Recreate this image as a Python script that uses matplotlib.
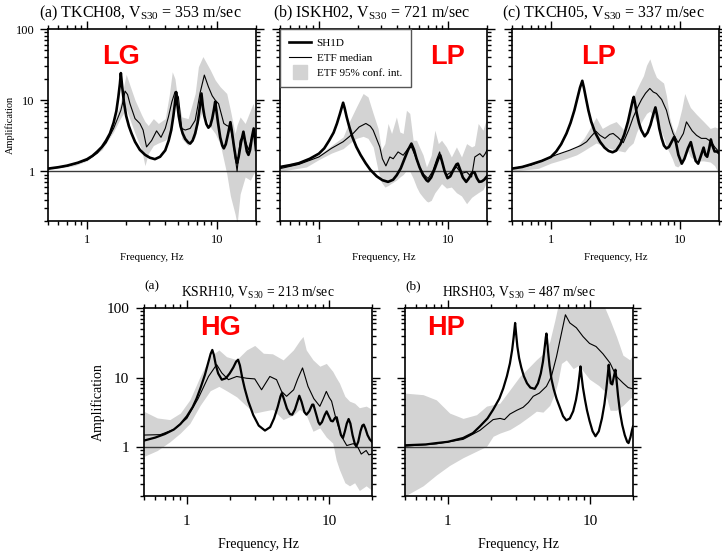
import matplotlib
matplotlib.use("Agg")
import matplotlib.pyplot as plt
from matplotlib.ticker import FixedLocator, FixedFormatter, LogLocator, NullFormatter
from matplotlib.lines import Line2D

plt.rcParams['font.family'] = ['Liberation Serif', 'DejaVu Serif']
plt.rcParams['mathtext.fontset'] = 'custom'
plt.rcParams['mathtext.rm'] = 'Liberation Serif'
plt.rcParams['mathtext.it'] = 'Liberation Serif:italic'

# ---------------- data: top (a) TKCH08 ----------------
tkch08_sh_f = [0.5, 0.6, 0.7, 0.85, 1.0, 1.1, 1.2, 1.3, 1.4, 1.5, 1.6, 1.68, 1.74, 1.79, 1.82, 1.86, 1.92,
               2.0, 2.1, 2.2, 2.34, 2.55, 2.8, 3.05, 3.33, 3.65, 4.0, 4.25, 4.45, 4.62, 4.75, 4.85, 4.95,
               5.08, 5.25, 5.45, 5.7, 6.0, 6.22, 6.5, 6.8, 7.1, 7.35, 7.6, 7.8, 8.0, 8.3, 8.6, 8.9, 9.2,
               9.5, 9.7, 9.9, 10.2, 10.6, 11.0, 11.3, 11.7, 12.2, 12.7, 13.0, 13.5, 14.0, 14.3, 14.7,
               15.3, 16.0, 16.5, 17.0, 17.5, 18.0, 18.6, 19.2, 19.6, 20.0]
tkch08_sh_a = [1.09, 1.14, 1.2, 1.32, 1.48, 1.65, 1.9, 2.2, 2.7, 3.4, 4.8, 7, 11, 17, 24, 16, 9.5,
               6.0, 4.3, 3.4, 2.6, 2.0, 1.7, 1.55, 1.48, 1.6, 1.97, 2.7, 3.8, 6, 9, 13, 9,
               6, 4.3, 3.4, 2.85, 2.55, 2.45, 2.7, 3.4, 4.8, 7.5, 12.4, 8, 6.0, 4.6, 4.1, 4.4, 5.5,
               7.5, 9.5, 7.2, 4.8, 3.0, 2.3, 2.1, 2.4, 3.4, 4.9, 3.8, 2.3, 1.5, 1.3, 1.6,
               2.5, 3.6, 2.6, 1.9, 1.7, 2.0, 3.0, 4.0, 2.9, 2.0]
tkch08_etf_f = [0.5, 0.7, 1.0, 1.2, 1.4, 1.6, 1.75, 1.82, 1.9, 1.96, 2.05, 2.14, 2.34, 2.55, 2.7, 2.87, 3.14,
                3.43, 3.71, 4.0, 4.23, 4.5, 4.76, 5.05, 5.36, 5.7, 6.22, 6.8, 7.1, 7.4, 8.0, 8.6, 9.2, 9.7,
                10.3, 11.3, 11.9, 12.7, 13.4, 14.3, 15.1, 16.0, 17.5, 19.2, 20.0]
tkch08_etf_a = [1.08, 1.18, 1.43, 1.8, 2.5, 4.0, 6.0, 7.2, 10, 13.4, 12, 8.9, 5.5, 4.7, 3.8, 2.2, 2.7,
                3.7, 3.0, 4.0, 5.8, 9.5, 13.1, 11.1, 4.0, 3.8, 4.0, 5.2, 8, 12.4, 22.5, 15.4, 11.5, 10.0,
                8.9, 4.7, 4.4, 4.2, 2.45, 1.0, 2.7, 3.2, 2.0, 3.8, 3.0]
tkch08_ci_f = [0.5, 0.8, 1.0, 1.3, 1.6, 1.8, 2.0, 2.34, 2.63, 2.79, 2.96, 3.24, 3.54, 4.0, 4.3, 4.53, 4.75,
               4.9, 5.36, 6.0, 6.8, 7.2, 7.8, 8.9, 9.7, 10.6, 11.9, 12.7, 13.8, 14.3, 15.1, 16.5, 18.1, 19.0, 20.0]
tkch08_ci_hi = [1.12, 1.3, 1.5, 2.2, 4.5, 9, 23, 10, 6.2, 5, 4.4, 5.5, 4.7, 5.5, 12, 25, 20,
                13, 5.8, 5.5, 12.4, 29.5, 41, 26.5, 19.2, 15.4, 12.4, 7.2, 3.4, 4.5, 5.8, 4.7, 7.2, 9.0, 5.8]
tkch08_ci_lo = [1.05, 1.2, 1.4, 2.0, 3.6, 5.5, 7.5, 3.4, 2.0, 1.2, 1.77, 2.3, 2.5, 2.73, 3.2, 5.0, 9.0,
                10, 2.88, 2.3, 3.0, 5.0, 7.2, 4.2, 3.4, 2.4, 0.93, 0.45, 0.25, 0.18, 0.48, 0.83, 0.75, 0.9, 1.03]

# ---------------- data: top (b) ISKH02 ----------------
iskh02_sh_f = [0.5, 0.6, 0.7, 0.85, 1.0, 1.1, 1.2, 1.3, 1.38, 1.45, 1.5, 1.54, 1.58, 1.64, 1.72, 1.82, 1.95,
               2.1, 2.3, 2.5, 2.8, 3.1, 3.43, 3.75, 4.0, 4.3, 4.6, 4.9, 5.2, 5.45, 5.7, 6.0, 6.4, 6.8, 7.0,
               7.4, 7.9, 8.4, 8.7, 9.0, 9.4, 9.9, 10.4, 11.0, 11.6, 11.9, 12.4, 13.0, 13.8, 14.5, 15.3,
               16.0, 16.7, 17.4, 18.2, 19.0, 20.0]
iskh02_sh_a = [1.15, 1.22, 1.3, 1.5, 1.77, 2.1, 2.7, 3.5, 4.7, 6.3, 7.8, 9.2, 7.8, 5.8, 4.2, 3.0, 2.2,
               1.7, 1.3, 1.05, 0.85, 0.75, 0.71, 0.76, 0.88, 1.1, 1.5, 2.0, 2.45, 2.0, 1.5, 1.15, 0.88, 0.75, 0.72,
               0.82, 1.1, 1.5, 1.68, 1.35, 1.0, 0.8, 0.85, 1.05, 1.25, 1.28, 1.05, 0.82, 0.71, 0.8, 0.95,
               0.97, 0.8, 0.71, 0.72, 0.76, 0.85]
iskh02_etf_f = [0.5, 0.7, 1.0, 1.25, 1.54, 1.84, 2.05, 2.31, 2.5, 2.63, 2.96, 3.1, 3.3, 3.54, 3.76, 4.1, 4.49,
                4.9, 5.2, 5.6, 6.0, 6.5, 7.0, 7.6, 8.2, 8.6, 9.1, 9.7, 10.6, 11.6, 12.7, 13.9, 15.2, 16.1,
                17.6, 18.6, 19.3, 20.0]
iskh02_etf_a = [1.09, 1.25, 1.59, 2.1, 2.6, 3.4, 4.2, 4.7, 4.3, 3.78, 2.2, 1.5, 1.19, 1.59, 1.5, 1.87, 1.68,
                2.08, 2.2, 1.6, 1.15, 0.9, 0.79, 1.0, 1.5, 1.87, 1.2, 0.88, 0.98, 1.15, 0.93, 0.98, 0.83, 1.59,
                1.77, 1.59, 1.75, 1.98]
iskh02_ci_f = [0.5, 0.8, 1.0, 1.25, 1.54, 1.74, 1.95, 2.2, 2.4, 2.63, 2.87, 3.05, 3.24, 3.43, 3.65, 3.98, 4.23,
               4.49, 4.76, 5.05, 5.36, 5.7, 6.0, 6.4, 6.8, 7.0, 7.4, 7.9, 8.4, 8.9, 9.7, 10.6, 11.6, 12.7,
               13.9, 15.2, 16.0, 17.1, 18.6, 20.0]
iskh02_ci_hi = [1.2, 1.45, 1.7, 2.3, 3.04, 5.2, 8.0, 12.4, 11.1, 6.5, 4.0, 2.0, 2.45, 4.7, 3.4, 5.8, 3.57,
                3.4, 7.2, 6.5, 2.73, 2.73, 2.2, 1.7, 1.15, 1.3, 1.68, 3.78, 2.45, 2.73, 2.2, 1.59, 2.2, 1.59,
                2.45, 2.2, 2.3, 4.7, 3.78, 5.8]
iskh02_ci_lo = [1.0, 1.15, 1.46, 1.8, 2.08, 2.5, 2.9, 3.1, 2.9, 2.2, 1.03, 0.7, 0.6, 0.63, 0.68, 0.75, 0.83,
                0.9, 1.03, 1.0, 0.8, 0.6, 0.5, 0.43, 0.38, 0.37, 0.39, 0.5, 0.58, 0.67, 0.58, 0.6, 0.5, 0.45,
                0.35, 0.43, 0.46, 0.5, 0.55, 0.71]

# ---------------- data: top (c) TKCH05 ----------------
tkch05_sh_f = [0.5, 0.6, 0.7, 0.85, 1.0, 1.1, 1.2, 1.32, 1.42, 1.52, 1.6, 1.68, 1.75, 1.8, 1.87, 1.95, 2.05,
               2.2, 2.4, 2.6, 2.8, 3.0, 3.2, 3.45, 3.7, 3.95, 4.15, 4.3, 4.38, 4.48, 4.62, 4.8, 5.0, 5.32,
               5.6, 5.9, 6.2, 6.44, 6.65, 6.9, 7.2, 7.5, 7.84, 8.2, 8.6, 9.0, 9.3, 9.7, 10.3, 10.8, 11.5,
               12.1, 12.6, 13.2, 13.8, 14.4, 15.2, 15.7, 16.2, 16.8, 17.3, 17.8, 18.5, 19.2, 20.0]
tkch05_sh_a = [1.09, 1.15, 1.25, 1.4, 1.59, 1.9, 2.4, 3.4, 4.8, 7.2, 10.5, 15, 18.7, 15, 10.5, 7.2, 5.0,
               3.5, 2.6, 2.15, 1.93, 1.85, 1.95, 2.4, 3.3, 5.0, 7.5, 10, 11.1, 9, 6.5, 4.8, 3.8, 3.1,
               3.5, 4.5, 6.3, 7.9, 6.0, 4.0, 2.9, 2.3, 2.09, 2.2, 2.6, 3.04, 2.5, 1.7, 1.28, 1.5, 2.1,
               2.57, 1.9, 1.4, 1.28, 1.6, 2.15, 1.7, 1.6, 2.1, 2.8, 2.3, 1.9, 1.9, 1.8]
tkch05_etf_f = [0.5, 0.7, 0.87, 1.1, 1.4, 1.7, 1.89, 2.05, 2.23, 2.4, 2.62, 2.85, 3.03, 3.3, 3.63, 4.0, 4.33,
                4.7, 5.03, 5.4, 5.83, 6.2, 6.56, 7.2, 7.84, 8.3, 8.83, 9.66, 10.6, 11.2, 12.4, 13.4, 14.6,
                15.9, 17.4, 18.5, 20.0]
tkch05_etf_a = [1.09, 1.22, 1.43, 1.7, 1.98, 2.3, 2.6, 3.1, 3.66, 3.2, 2.9, 3.3, 3.4, 3.0, 2.52, 3.8, 5.7,
                8.0, 10.2, 12.5, 14.6, 13, 12.4, 10.2, 7.2, 4.8, 3.4, 2.53, 3.4, 4.95, 3.7, 3.2, 2.9,
                2.9, 2.6, 2.2, 1.87]
tkch05_ci_f = [0.5, 0.8, 1.0, 1.3, 1.58, 1.8, 2.0, 2.24, 2.5, 2.86, 3.2, 3.73, 4.0, 4.33, 4.6, 4.87, 5.2,
               5.5, 5.83, 6.2, 6.56, 7.0, 7.45, 7.84, 8.3, 8.7, 9.1, 9.6, 10.3, 10.86, 11.5, 12.0, 13.4,
               15.2, 17.1, 18.5, 20.0]
tkch05_ci_hi = [1.12, 1.35, 1.6, 1.9, 2.2, 2.9, 4.0, 5.7, 4.0, 4.6, 5.0, 3.7, 5.5, 10.8, 14, 17.4, 22,
                31, 38, 27, 21, 19, 17.4, 11.5, 5.7, 4.2, 3.45, 4.5, 7.5, 12.4, 9.5, 7.9, 6.3,
                5.0, 4.0, 4.2, 4.0]
tkch05_ci_lo = [1.0, 1.1, 1.3, 1.5, 1.7, 1.95, 2.2, 2.5, 2.3, 2.1, 1.98, 1.87, 2.2, 2.5, 3.5, 4.5, 5.5,
                6.5, 7.0, 6.0, 5.0, 4.0, 3.0, 2.2, 1.8, 1.5, 1.2, 1.15, 1.3, 1.8, 1.9, 1.6, 1.4,
                1.4, 1.35, 1.2, 0.9]

# ---------------- data: bottom (a) KSRH10 ----------------
ksrh10_sh_f = [0.5, 0.6, 0.7, 0.81, 0.9, 1.0, 1.1, 1.17, 1.25, 1.34, 1.42, 1.47, 1.51, 1.55, 1.6, 1.66, 1.76,
               1.88, 2.0, 2.12, 2.22, 2.29, 2.36, 2.45, 2.55, 2.7, 2.93, 3.2, 3.54, 3.85, 4.1, 4.35, 4.55,
               4.65, 4.8, 5.05, 5.3, 5.5, 5.75, 6.0, 6.17, 6.4, 6.7, 6.93, 7.25, 7.6, 7.75, 8.1, 8.4, 8.6,
               8.9, 9.3, 9.6, 9.95, 10.3, 10.6, 11.0, 11.3, 11.7, 12.1, 12.5, 12.9, 13.3, 13.7, 14.1, 14.6,
               15.1, 15.5, 16.0, 16.6, 17.1, 17.5, 18.0, 18.6, 19.3, 20.0]
ksrh10_sh_a = [1.25, 1.38, 1.55, 1.8, 2.15, 2.78, 3.8, 5.0, 7.2, 11, 17, 22, 25, 21, 15, 11.5, 9.35,
               9.8, 11.5, 14, 17, 18.1, 15, 10, 7, 4.6, 2.9, 2.05, 1.74, 1.95, 2.6, 3.8, 5.4,
               6.0, 5.0, 3.6, 3.0, 2.94, 3.5, 4.6, 5.5, 4.5, 3.2, 2.94, 3.3, 4.1, 4.1, 3.0, 2.3, 2.12,
               2.3, 2.9, 3.28, 2.8, 2.4, 2.36, 2.65, 2.7, 2.0, 1.5, 1.36, 1.7, 2.2, 2.55, 2.2, 1.5,
               1.15, 1.03, 1.2, 1.7, 2.05, 2.12, 1.85, 1.5, 1.3, 1.2]
ksrh10_etf_f = [0.5, 0.65, 0.81, 1.0, 1.2, 1.42, 1.62, 1.76, 1.96, 2.24, 2.63, 3.0, 3.35, 3.6, 3.83, 4.27,
                4.63, 5.02, 5.63, 6.0, 6.5, 7.1, 7.8, 8.6, 9.1, 9.55, 10.0, 10.4, 11.2, 12.2, 13.3, 14.8,
                16.0, 16.8, 18.2, 19.0, 20.0]
ksrh10_etf_a = [1.5, 1.52, 1.8, 2.6, 5.0, 10.4, 15.4, 11.7, 9.35, 10.4, 9.8, 9.6, 6.7, 8.5, 10.4, 9.35,
                6.35, 5.4, 6.7, 9.5, 13.8, 7.5, 5.0, 3.88, 5.0, 6.35, 5.2, 4.6, 2.5, 1.44, 1.06, 1.13,
                0.98, 0.8, 0.9, 0.78, 0.8]
ksrh10_ci_f = [0.5, 0.62, 0.76, 0.9, 1.05, 1.24, 1.46, 1.68, 1.9, 2.24, 2.63, 3.0, 3.45, 4.0, 4.75, 5.6,
               6.2, 6.55, 6.9, 7.7, 8.6, 9.55, 10.6, 11.2, 11.8, 12.9, 13.9, 15.1, 16.3, 18.2, 20.0]
ksrh10_ci_hi = [3.28, 2.64, 2.5, 3.1, 4.8, 10.4, 20.2, 25, 20, 18.1, 25, 29, 22.4, 22, 18, 25,
                34, 39, 25, 18, 14.6, 16, 12.3, 10, 8.4, 5.4, 4.6, 4.3, 3.7, 3.9, 3.5]
ksrh10_ci_lo = [0.74, 0.9, 1.2, 1.6, 2.2, 4.0, 6.5, 7.5, 6.5, 5.3, 3.9, 3.1, 3.3, 3.5, 2.5, 2.9,
                3.5, 3.2, 2.9, 1.7, 1.9, 1.4, 1.15, 0.66, 0.48, 0.31, 0.28, 0.31, 0.24, 0.28, 0.24]

# ---------------- data: bottom (b) HRSH03 ----------------
hrsh03_sh_f = [0.5, 0.7, 0.83, 1.0, 1.28, 1.5, 1.68, 1.9, 2.08, 2.3, 2.45, 2.6, 2.73, 2.83, 2.9, 2.97, 3.02,
               3.08, 3.17, 3.28, 3.42, 3.6, 3.8, 4.08, 4.3, 4.5, 4.66, 4.78, 4.88, 4.93, 4.98, 5.06, 5.18,
               5.35, 5.55, 5.8, 6.1, 6.45, 6.8, 7.2, 7.6, 7.95, 8.2, 8.4, 8.55, 8.7, 8.9, 9.2, 9.5, 9.9,
               10.4, 10.9, 11.5, 12.1, 12.6, 13.0, 13.3, 13.5, 13.7, 13.95, 14.3, 14.7, 15.05, 15.3, 15.7,
               16.2, 16.8, 17.5, 18.2, 18.6, 19.2, 19.6, 20.0]
hrsh03_sh_a = [1.07, 1.1, 1.15, 1.2, 1.36, 1.6, 2.0, 2.6, 3.47, 5.0, 7.0, 10.5, 16, 25, 38, 61, 42,
               28, 19, 14, 10.5, 8.3, 7.2, 6.9, 8.3, 11.5, 17, 26, 38, 43, 35, 24, 15,
               9.5, 6.8, 5.0, 3.8, 2.8, 2.44, 2.6, 3.3, 4.8, 7.0, 10.5, 14.5, 10.5, 7.2, 4.8, 3.4, 2.4,
               1.7, 1.44, 1.7, 2.6, 4.2, 7.0, 11, 15.3, 11.5, 8.3, 8.0, 10.5, 13, 9.5, 5.5,
               3.2, 2.1, 1.5, 1.2, 1.15, 1.4, 1.7, 2.0]
hrsh03_etf_f = [0.5, 0.83, 1.28, 1.68, 2.08, 2.33, 2.5, 2.73, 3.05, 3.38, 3.68, 3.98, 4.4, 4.93, 5.34, 5.8,
                6.28, 6.7, 7.2, 8.0, 8.9, 9.9, 11.0, 12.3, 13.8, 15.3, 17.0, 18.5, 20.0]
hrsh03_etf_a = [1.04, 1.12, 1.3, 1.75, 2.5, 2.6, 2.5, 3.0, 3.4, 3.75, 4.4, 5.4, 6.0, 7.5, 10.4, 20,
                43, 80, 61, 52, 39, 31, 28, 22, 16.2, 10.4, 8.4, 7.2, 6.9]
hrsh03_ci_f = [0.5, 0.67, 0.83, 1.03, 1.28, 1.59, 1.87, 2.08, 2.32, 2.73, 3.2, 3.77, 4.19, 4.66, 5.2, 5.65,
               5.96, 6.28, 6.8, 7.6, 8.3, 9.9, 11.5, 12.7, 13.8, 15.3, 17.0, 19.0, 20.0]
hrsh03_ci_hi = [6.0, 5.7, 4.8, 3.1, 2.6, 2.94, 3.9, 4.1, 4.3, 6.7, 10.4, 14.5, 18.1, 22, 33, 67,
                110, 110, 110, 110, 110, 110, 110, 100, 67, 39, 21, 18, 22]
hrsh03_ci_lo = [0.2, 0.28, 0.4, 0.55, 0.71, 0.88, 1.03, 1.44, 1.6, 1.8, 2.2, 2.8, 3.3, 3.2, 4.0, 6.0,
                9.0, 16, 18, 13.5, 15, 9.5, 7.7, 6.3, 3.4, 3.4, 4.0, 5.0, 5.4]

panel_titles = ['(a) TKCH08, V$_{\\mathrm{S30}}$ = 353 m/sec',
                '(b) ISKH02, V$_{\\mathrm{S30}}$ = 721 m/sec',
                '(c) TKCH05, V$_{\\mathrm{S30}}$ = 337 m/sec',
                'KSRH10, V$_{\\mathrm{S30}}$ = 213 m/sec',
                'HRSH03, V$_{\\mathrm{S30}}$ = 487 m/sec']
panel_tags = ['LG', 'LP', 'LP', 'HG', 'HP']
legend_labels = ['SH1D', 'ETF median', 'ETF 95% conf. int.']

W, H = 722, 553
fig = plt.figure(figsize=(W / 100, H / 100), dpi=100)


def px_axes(l, t, r, b):
    return fig.add_axes([l / W, 1 - b / H, (r - l) / W, (b - t) / H])


GRAY = '#d3d3d3'


def draw_panel(ax, sh_f, sh_a, etf_f, etf_a, ci_f, ci_hi, ci_lo, big, show_y):
    ax.fill_between(ci_f, ci_lo, ci_hi, color=GRAY, lw=0, zorder=1)
    ax.axhline(1.0, color='#3a3a3a', lw=1.0, zorder=2)
    ax.plot(etf_f, etf_a, color='black', lw=0.8, zorder=3)
    ax.plot(sh_f, sh_a, color='black', lw=1.6 if big else 1.9, zorder=4,
            solid_joinstyle='round')
    ax.set_xscale('log')
    ax.set_yscale('log')
    ax.set_xlim(0.5, 20)
    ax.set_ylim(0.2, 100)
    ax.xaxis.set_major_locator(FixedLocator([1, 10]))
    ax.xaxis.set_major_formatter(FixedFormatter(['1', '10']))
    ax.yaxis.set_major_locator(FixedLocator([1, 10, 100]))
    ax.yaxis.set_major_formatter(FixedFormatter(['1', '10', '100']))
    ax.xaxis.set_minor_locator(LogLocator(base=10, subs=range(2, 10)))
    ax.yaxis.set_minor_locator(LogLocator(base=10, subs=range(2, 10)))
    ax.xaxis.set_minor_formatter(NullFormatter())
    ax.yaxis.set_minor_formatter(NullFormatter())
    ls = 11 if big else 9
    ax.tick_params(which='both', direction='out', top=True, right=True, width=1.0,
                   labelsize=ls, labelleft=show_y, labelright=False, labeltop=False)
    ax.tick_params(axis='x', which='major', length=5.5, pad=8 if big else 4)
    ax.tick_params(axis='y', which='major', length=5.5, pad=5 if big else 4)
    ax.tick_params(which='minor', length=3)
    for s in ax.spines.values():
        s.set_linewidth(1.2)
    ax.set_xlabel('Frequency, Hz', fontsize=10 if big else 7.8, labelpad=7.5 if big else 5)
    if show_y:
        ax.set_ylabel('Amplification', fontsize=10 if big else 7.5)
        if big:
            ax.yaxis.set_label_coords(-0.172, 0.5)
        else:
            ax.yaxis.set_label_coords(-0.157, 0.5)


top_boxes = [(48, 29, 256, 221), (280, 29, 487, 221), (512, 29, 719, 221)]
bot_boxes = [(144, 308, 372, 496), (405, 308, 633, 496)]

datasets = [
    (tkch08_sh_f, tkch08_sh_a, tkch08_etf_f, tkch08_etf_a, tkch08_ci_f, tkch08_ci_hi, tkch08_ci_lo),
    (iskh02_sh_f, iskh02_sh_a, iskh02_etf_f, iskh02_etf_a, iskh02_ci_f, iskh02_ci_hi, iskh02_ci_lo),
    (tkch05_sh_f, tkch05_sh_a, tkch05_etf_f, tkch05_etf_a, tkch05_ci_f, tkch05_ci_hi, tkch05_ci_lo),
    (ksrh10_sh_f, ksrh10_sh_a, ksrh10_etf_f, ksrh10_etf_a, ksrh10_ci_f, ksrh10_ci_hi, ksrh10_ci_lo),
    (hrsh03_sh_f, hrsh03_sh_a, hrsh03_etf_f, hrsh03_etf_a, hrsh03_ci_f, hrsh03_ci_hi, hrsh03_ci_lo),
]
tag_pos = [(0.353, 0.855), (0.809, 0.855), (0.418, 0.855), (0.336, 0.894), (0.182, 0.894)]

axes = []
for i, box in enumerate(top_boxes + bot_boxes):
    ax = px_axes(*box)
    big = i >= 3
    draw_panel(ax, *datasets[i], big=big, show_y=(i in (0, 3)))
    if not big:
        ax.text(0.442, 1.083, panel_titles[i], transform=ax.transAxes, fontsize=11.5,
                ha='center', va='center')
    else:
        ax.set_title(panel_titles[i], fontsize=9.8, pad=8)
        ax.text(0.0, 1.115, '(a)' if i == 3 else '(b)', transform=ax.transAxes,
                fontsize=9.5, ha='left', va='center')
    ax.text(tag_pos[i][0], tag_pos[i][1], panel_tags[i], transform=ax.transAxes,
            color='#ff0000', fontsize=19.5, fontweight='bold', family='Liberation Sans',
            ha='center', va='center', zorder=6)
    axes.append(ax)

handles = [Line2D([], [], color='black', lw=1.9),
           Line2D([], [], color='black', lw=0.8),
           Line2D([], [], color=GRAY, marker='s', markersize=10, linestyle='none')]
leg = axes[1].legend(handles, legend_labels, loc='upper left', bbox_to_anchor=(0, 1),
                     borderaxespad=0.0, fontsize=8, frameon=True, fancybox=False,
                     framealpha=1, edgecolor='#555555', handlelength=2.0, handletextpad=0.5,
                     labelspacing=0.5, borderpad=0.8)
leg.get_frame().set_linewidth(1.0)
leg.set_zorder(7)

fig.savefig('out.png', dpi=100)
